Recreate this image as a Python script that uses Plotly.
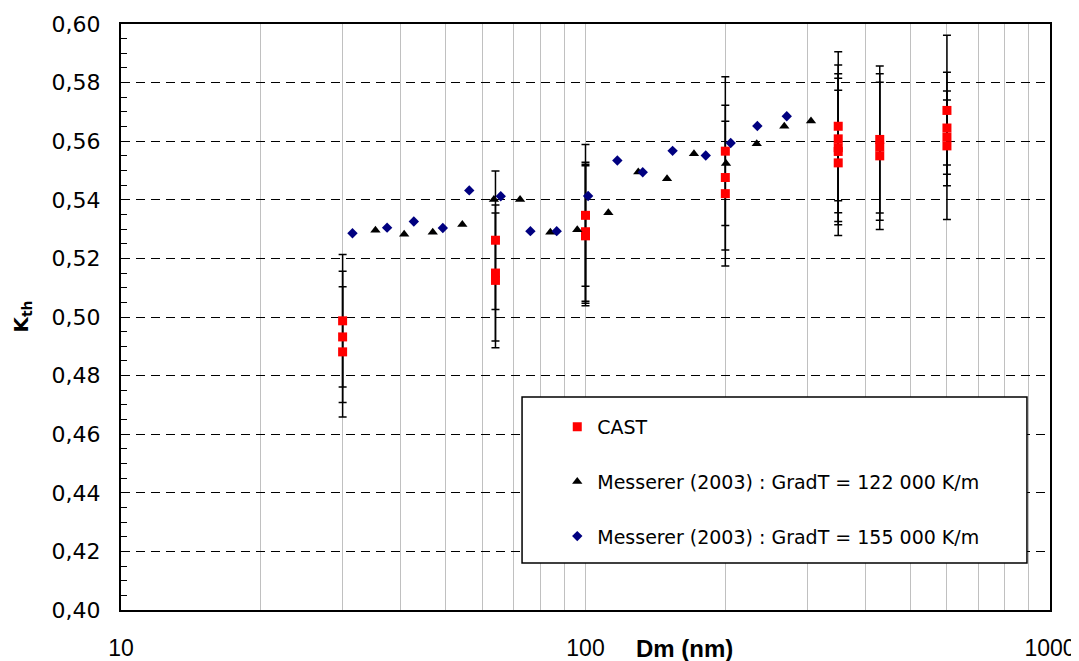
import plotly.graph_objects as go

# CAST measurements (red squares with symmetric error bars)
cast_dm = [30, 30, 30, 64, 64, 64, 100, 100, 100, 100, 200, 200, 200,
           350, 350, 350, 350, 350, 430, 430, 430, 600, 600, 600, 600]
cast_k = [0.4987, 0.4932, 0.4881, 0.5262, 0.5150, 0.5125,
          0.5347, 0.5291, 0.5284, 0.5277, 0.5566, 0.5476, 0.5421,
          0.5651, 0.5608, 0.5578, 0.5565, 0.5526,
          0.5606, 0.5580, 0.5550, 0.5705, 0.5645, 0.5614, 0.5584]
cast_err = [0.0226, 0.0224, 0.0222, 0.0236, 0.0232, 0.0230,
            0.0242, 0.0237, 0.0237, 0.0239, 0.0254, 0.0247, 0.0247,
            0.0254, 0.0252, 0.0252, 0.0250, 0.0248,
            0.0251, 0.0250, 0.0251, 0.0257, 0.0126, 0.0127, 0.0251]

# Messerer (2003), GradT = 122 000 K/m
mes122_dm = [35.3, 40.7, 46.9, 54.3, 63.5, 72.3, 84.0, 96.0,
             112.0, 129.9, 149.8, 171.2, 200.7, 233.7, 267.9, 305.8]
mes122_k = [0.5296, 0.5282, 0.5289, 0.5316, 0.5401, 0.5401, 0.5289, 0.5298,
            0.5356, 0.5495, 0.5472, 0.5557, 0.5524, 0.5591, 0.5651, 0.5669]

# Messerer (2003), GradT = 155 000 K/m
mes155_dm = [31.5, 37.4, 42.7, 49.3, 56.2, 65.7, 76.1, 86.7,
             101.3, 117.1, 132.8, 154.0, 181.5, 205.4, 234.4, 271.2]
mes155_k = [0.5286, 0.5305, 0.5326, 0.5304, 0.5432, 0.5412, 0.5293, 0.5293,
            0.5413, 0.5534, 0.5494, 0.5567, 0.5551, 0.5594, 0.5652, 0.5685]

x_ticks = [10, 100, 1000]
y_ticks = [0.40, 0.42, 0.44, 0.46, 0.48, 0.50, 0.52, 0.54, 0.56, 0.58, 0.60]

fig = go.Figure()

fig.add_trace(go.Scatter(
    x=cast_dm, y=cast_k, mode='markers', name='CAST', legendgroup='a',
    marker=dict(symbol='square', size=9, color='#FF0000'),
    error_y=dict(type='data', array=cast_err, color='black', thickness=1.5, width=4),
))
fig.add_trace(go.Scatter(
    x=mes122_dm, y=mes122_k, mode='markers', legendgroup='b',
    name='Messerer (2003) : GradT = 122 000 K/m',
    marker=dict(symbol='triangle-up', size=9, color='black'),
))
fig.add_trace(go.Scatter(
    x=mes155_dm, y=mes155_k, mode='markers', legendgroup='c',
    name='Messerer (2003) : GradT = 155 000 K/m',
    marker=dict(symbol='diamond', size=8, color='#000080'),
))

# legend frame
fig.add_shape(type='rect', xref='paper', yref='paper',
              x0=0.4317, x1=0.9752, y0=0.0802, y1=0.3635,
              line=dict(color='black', width=1.5), fillcolor='white', layer='above')

fig.add_annotation(text='<b>K<sub>th</sub></b>', xref='paper', yref='paper',
                   x=-0.107, y=0.5, xanchor='center', yanchor='middle',
                   textangle=-90, showarrow=False,
                   font=dict(family='DejaVu Sans', size=20, color='black'))
fig.add_annotation(text='<b>Dm (nm)</b>', xref='paper', yref='paper',
                   x=0.607, y=-0.066, xanchor='center', yanchor='middle', showarrow=False,
                   font=dict(family='Liberation Sans', size=24, color='black'))

# page body adds an 8px offset, so the figure is a little smaller than the window
fig.update_layout(
    width=1071, height=653,
    margin=dict(l=113, r=29, t=16, b=51),
    paper_bgcolor='white', plot_bgcolor='white',
    separators=', ',
    showlegend=True,
    legend=dict(x=0.4696, y=0.345, xanchor='left', yanchor='top',
                bgcolor='rgba(0,0,0,0)', borderwidth=0,
                tracegroupgap=27, traceorder='grouped',
                font=dict(family='DejaVu Sans', size=19, color='black')),
    xaxis=dict(type='log', range=[1, 3], tickvals=x_ticks, ticktext=['10', '100', '1000'],
               automargin=False,
               showgrid=True, gridcolor='#C0C0C0', gridwidth=1,
               minor=dict(dtick='D1', showgrid=True, gridcolor='#C0C0C0', gridwidth=1, ticks=''),
               showline=True, linecolor='black', linewidth=2, mirror=True,
               ticks='', ticklabelstandoff=16,
               tickfont=dict(family='Liberation Sans', size=23, color='black'),
               zeroline=False),
    yaxis=dict(range=[0.40, 0.60], tickvals=y_ticks, tickformat='.2f',
               automargin=False,
               showgrid=True, gridcolor='black', gridwidth=1, griddash='9px,6px',
               showline=True, linecolor='black', linewidth=2, mirror=True,
               ticks='inside', ticklen=6, tickcolor='black',
               minor=dict(dtick=0.005, ticks='inside', ticklen=6, tickcolor='black', showgrid=False),
               ticklabelstandoff=14,
               tickfont=dict(family='DejaVu Sans', size=22, color='black'),
               zeroline=False),
)

fig.write_html("out.html")
